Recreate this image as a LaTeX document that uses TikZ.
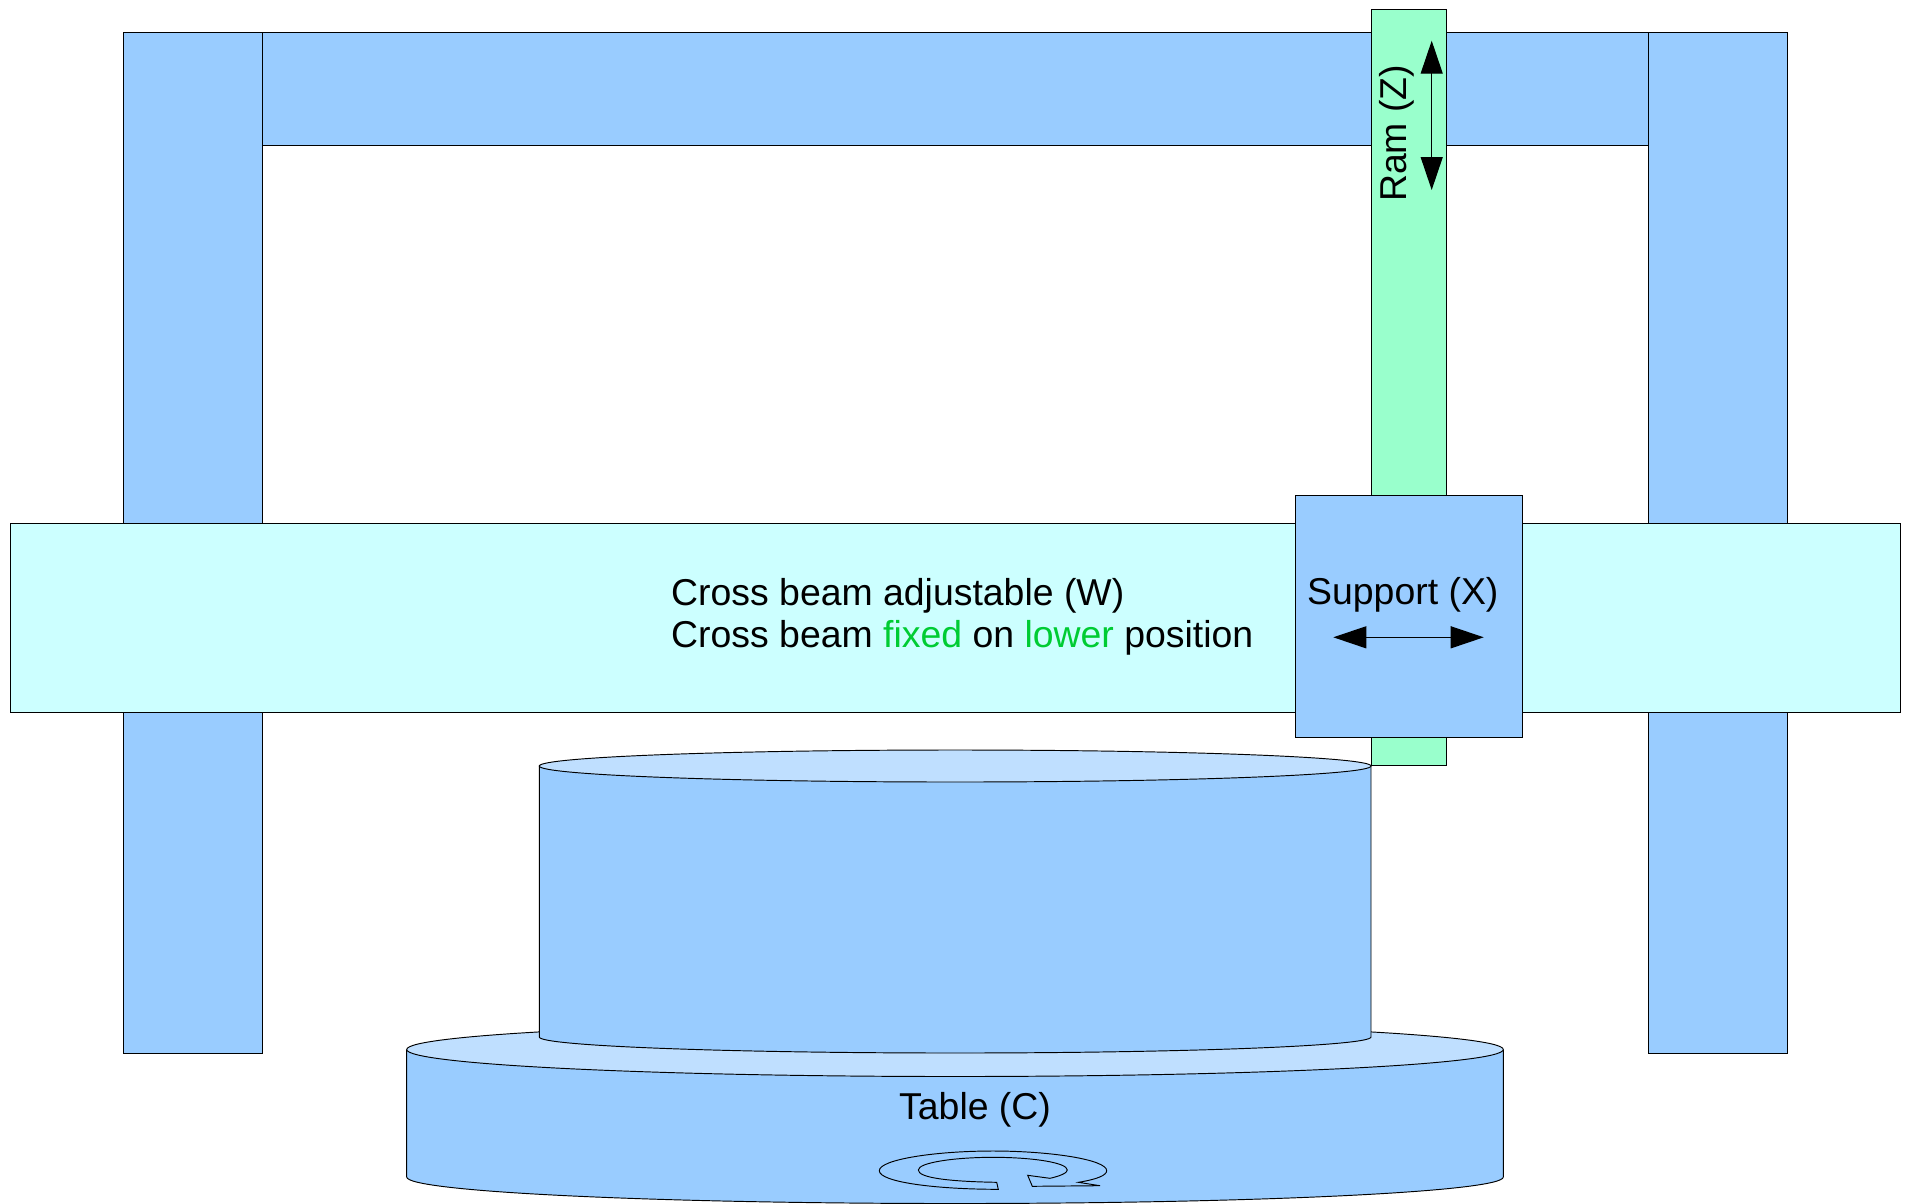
\documentclass[tikz,border=0pt]{standalone}
\usepackage{fontspec}
\setmainfont{Liberation Sans}
\usetikzlibrary{arrows.meta}
\definecolor{partblue}{HTML}{99CCFF}
\definecolor{capblue}{HTML}{BFDFFF}
\definecolor{beamcyan}{HTML}{CCFFFF}
\definecolor{ramgreen}{HTML}{99FFCC}
\definecolor{hl}{HTML}{00CC33}
\newcommand{\hlt}[1]{\textcolor{hl}{#1}}
\tikzset{
  x=1pt,y=-1pt,
  part/.style={draw=black,line width=0.95pt,line join=miter},
  label/.style={inner sep=0pt,anchor=base west,font=\fontsize{37.4}{43}\selectfont},
  motion/.style={draw=black,line width=1.2pt,{Triangle[length=33pt,width=22pt]}-{Triangle[length=33pt,width=22pt]}},
}
\begin{document}
\begin{tikzpicture}
\useasboundingbox (0,0) rectangle (1907,1203);
% columns and top beam
\draw[part,fill=partblue] (262,32.5) rectangle (1648,145.5);
\draw[part,fill=partblue] (123.5,32.5) rectangle (262,1053);
\draw[part,fill=partblue] (1648,32.5) rectangle (1787,1053);
% ram
\draw[part,fill=ramgreen] (1371,9.5) rectangle (1446,765.5);
% cross beam
\draw[part,fill=beamcyan] (10,523.5) rectangle (1900,712.5);
% support
\draw[part,fill=partblue] (1295.5,495.5) rectangle (1522,737);
% table
\draw[part,fill=partblue] (406.7,1050) -- (406.7,1177)
  arc[start angle=180,end angle=0,x radius=548.3,y radius=26.5] -- (1503.3,1050) -- cycle;
\draw[part,fill=capblue] (955,1049.5) ellipse[x radius=548.3,y radius=27];
% cylinder
\draw[part,fill=partblue] (539.3,766) -- (539.3,1037)
  arc[start angle=180,end angle=0,x radius=415.85,y radius=16] -- (1371,766) -- cycle;
\draw[part,fill=capblue] (955.15,766) ellipse[x radius=415.85,y radius=16];
% rotation arrow
\draw[part]
  (998.3,1189.3) -- (996.7,1182.3)
  .. controls (950,1181.5) and (918.3,1178) .. (918.3,1170)
  .. controls (918.3,1162.5) and (955,1157.3) .. (993,1157.3)
  .. controls (1032,1157.3) and (1067.3,1162.5) .. (1067.3,1170)
  .. controls (1067.3,1173) and (1060,1176) .. (1050,1178.3)
  -- (1027.7,1175.3) -- (1032.3,1186.3) -- (1100,1185.7) -- (1078.3,1182.3)
  .. controls (1096,1179.5) and (1106.7,1175.5) .. (1106.7,1170.7)
  .. controls (1106.7,1159.5) and (1050,1151) .. (993,1151)
  .. controls (935,1151) and (879.3,1159.5) .. (879.3,1170.7)
  .. controls (879.3,1182) and (935,1189.3) .. (998.3,1189.3) -- cycle;
% labels
\node[label] (ct1) at (671,605) {Cross beam adjustable (W)};
\node[label] (ct2) at (671,647.5) {Cross beam \hlt{fixed} on \hlt{lower} position};
\node[label] (st) at (1307,604) {Support (X)};
\node[label] (tt) at (899,1119) {Table (C)};
\node[label,rotate=90] (rt) at (1406,202) {Ram (Z)};
% motion arrows
\coordinate (zt) at (1431.7,40.7);
\coordinate (zb) at (1431.7,190);
\coordinate (xl) at (1333.3,637.3);
\coordinate (xr) at (1483.7,637.3);
\draw[motion] (zt) -- (zb);
\draw[motion] (xl) -- (xr);
\end{tikzpicture}
\end{document}
